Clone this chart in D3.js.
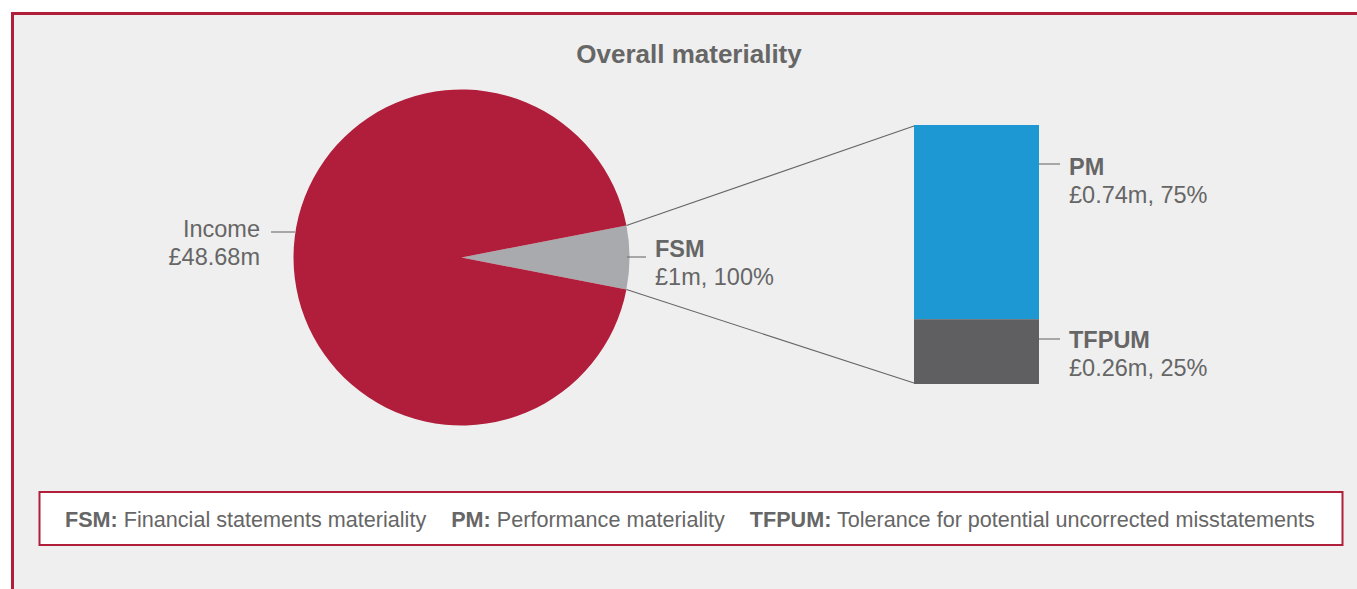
<!DOCTYPE html>
<html>
<head>
<meta charset="utf-8">
<script src="https://cdn.jsdelivr.net/npm/d3@7"></script>
<style>
  html, body { margin: 0; padding: 0; background: #ffffff; }
  svg { display: block; font-family: "Liberation Sans", Arial, Helvetica, sans-serif; }
</style>
</head>
<body>
<svg id="chart" width="1357" height="589"></svg>
<script>
// ---- data ----
const title = "Overall materiality";
const pieCategories = ["FSM", "Income"];
const pieLabels = [["FSM", "£1m, 100%"], ["Income", "£48.68m"]];
const pieShare = [6.1, 93.9]; // visual share of the pie (%)
const barCategories = ["PM", "TFPUM"];
const barPercents = [75, 25];
const barLabels = [["PM", "£0.74m, 75%"], ["TFPUM", "£0.26m, 25%"]];
const legendTerms = ["FSM:", "PM:", "TFPUM:"];
const legendDefs = ["Financial statements materiality", "Performance materiality", "Tolerance for potential uncorrected misstatements"];

// ---- styles ----
const crimson = "#b01e3a";
const textCol = "#666666";
const pieColors = { FSM: "#a9aaad", Income: "#b11e3b" };
const barColors = { PM: "#1e98d3", TFPUM: "#5f5f61" };

const svg = d3.select("#chart");

// frame
svg.append("rect").attr("x", 13).attr("y", 14).attr("width", 1400).attr("height", 600)
  .attr("fill", "#efefef");
svg.append("line").attr("x1", 12.5).attr("x2", 12.5).attr("y1", 12.5).attr("y2", 589)
  .attr("stroke", crimson).attr("stroke-width", 3);
svg.append("line").attr("x1", 11).attr("x2", 1357).attr("y1", 13.5).attr("y2", 13.5)
  .attr("stroke", crimson).attr("stroke-width", 3);

// title
svg.append("text").attr("x", 689).attr("y", 63).attr("text-anchor", "middle")
  .attr("font-size", 26).attr("font-weight", "bold").attr("fill", textCol).text(title);

// ---- pie ----
const cx = 461.5, cy = 257.5, r = 168;
const half = pieShare[0] / 100 * Math.PI; // half angle of FSM slice
const pie = d3.pie().sort(null).value(d => d)
  .startAngle(Math.PI / 2 - half).endAngle(Math.PI / 2 - half + 2 * Math.PI);
const arcs = pie(pieShare);
const arcGen = d3.arc().innerRadius(0).outerRadius(r);
const gPie = svg.append("g").attr("transform", `translate(${cx},${cy})`);
gPie.selectAll("path").data(arcs).join("path")
  .attr("d", arcGen)
  .attr("fill", (d, i) => pieColors[pieCategories[i]]);

// ---- bar ----
const barX = 914, barW = 125;
const yBar = d3.scaleLinear().domain([0, d3.sum(barPercents)]).range([125, 384]);
let cum = 0;
const stacks = barPercents.map(v => { const s = { y0: cum, y1: cum + v }; cum += v; return s; });
svg.selectAll("rect.bar").data(stacks).join("rect").attr("class", "bar")
  .attr("x", barX).attr("width", barW)
  .attr("y", d => yBar(d.y0)).attr("height", d => yBar(d.y1) - yBar(d.y0))
  .attr("fill", (d, i) => barColors[barCategories[i]]);

// connectors from FSM slice edges to bar corners
const fsm = arcs[0];
const p1 = [cx + r * Math.sin(fsm.startAngle), cy - r * Math.cos(fsm.startAngle)];
const p2 = [cx + r * Math.sin(fsm.endAngle), cy - r * Math.cos(fsm.endAngle)];
svg.append("line").attr("x1", p1[0]).attr("y1", p1[1]).attr("x2", barX).attr("y2", yBar(0) + 1)
  .attr("stroke", "#666").attr("stroke-width", 1.1);
svg.append("line").attr("x1", p2[0]).attr("y1", p2[1]).attr("x2", barX).attr("y2", yBar(d3.sum(barPercents)) - 1)
  .attr("stroke", "#666").attr("stroke-width", 1.1);

// ---- labels ----
function twoLine(x, y, lines, anchor, boldFirst) {
  const t = svg.append("text").attr("text-anchor", anchor).attr("font-size", 23.5).attr("fill", textCol);
  t.append("tspan").attr("x", x).attr("y", y).attr("font-weight", boldFirst ? "bold" : "normal").text(lines[0]);
  t.append("tspan").attr("x", x).attr("y", y + 27.5).text(lines[1]);
}
function leader(x1, x2, y) {
  svg.append("line").attr("x1", x1).attr("x2", x2).attr("y1", y).attr("y2", y)
    .attr("stroke", "#777").attr("stroke-width", 1.2);
}
// Income
leader(271, 295, 232);
twoLine(260, 237, pieLabels[1], "end", false);
// FSM
leader(627, 646, 257);
twoLine(655, 257, pieLabels[0], "start", true);
// PM / TFPUM
leader(barX + barW, 1060, 164);
twoLine(1069, 175, barLabels[0], "start", true);
leader(barX + barW, 1060, 339);
twoLine(1069, 348, barLabels[1], "start", true);

// ---- legend ----
svg.append("rect").attr("x", 39.5).attr("y", 492).attr("width", 1303).attr("height", 53)
  .attr("fill", "#ffffff").attr("stroke", crimson).attr("stroke-width", 2);
const legText = svg.append("text").attr("x", 65).attr("y", 527).attr("font-size", 21.6).attr("fill", textCol);
legendTerms.forEach((term, i) => {
  legText.append("tspan").attr("font-weight", "bold").attr("dx", i === 0 ? 0 : 25).text(term);
  legText.append("tspan").text(" " + legendDefs[i]);
});
</script>
</body>
</html>
